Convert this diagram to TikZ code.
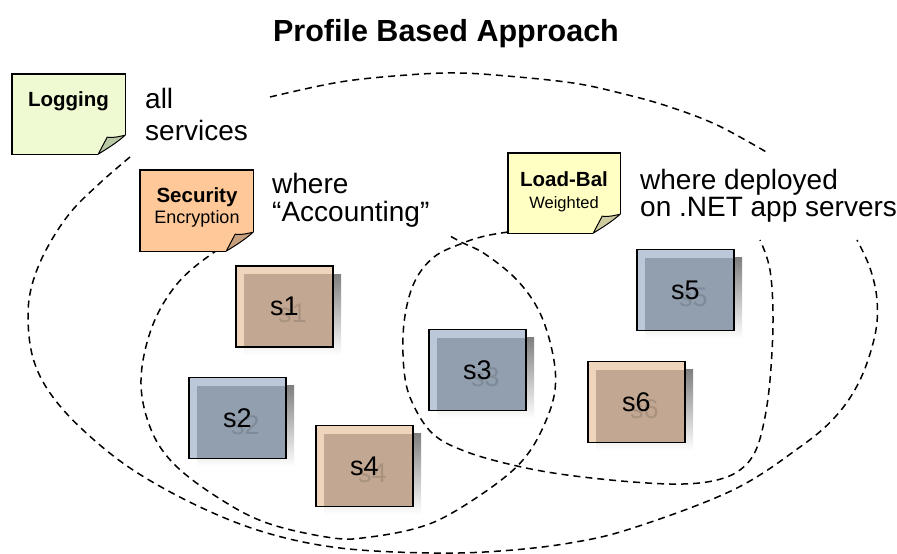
\documentclass[tikz,border=0pt]{standalone}
\usepackage{fontspec}
\setmainfont{Liberation Sans}
\usetikzlibrary{calc}

\definecolor{logfill}{HTML}{EFFAD3}
\definecolor{logfold}{HTML}{B9C9A5}
\definecolor{secfill}{HTML}{FEC898}
\definecolor{secfold}{HTML}{C8A07D}
\definecolor{lbfill}{HTML}{FFFFC4}
\definecolor{lbfold}{HTML}{CCCCA0}
\definecolor{tanlight}{HTML}{EED5BC}
\definecolor{tandark}{HTML}{C2A892}
\definecolor{bluelight}{HTML}{BAC8DA}
\definecolor{bluedark}{HTML}{929FAF}
\definecolor{shade}{HTML}{555555}

\tikzset{
  region/.style={draw=black, line width=1.5pt, dash pattern=on 7pt off 5pt},
  notebox/.style={minimum width=113pt, minimum height=80pt, inner sep=0pt},
  notehead/.style={anchor=base, inner sep=0pt, font=\fontsize{20.5}{20.5}\selectfont\bfseries},
  notesub/.style={anchor=base, inner sep=0pt},
  remark/.style={anchor=base west, inner sep=0pt, font=\fontsize{28}{28}\selectfont},
  svcbox/.style={draw=black, line width=1.4pt, minimum width=97pt, minimum height=81pt,
                 inner sep=0pt, font=\fontsize{27}{27}\selectfont},
  ghost/.style={inner sep=0pt, font=\fontsize{27}{27}\selectfont, text opacity=0.13},
}

% sticky note outline with a curled lower right corner
\newcommand\notebody[3]{%
  \fill[#2] (#1.north west) -- (#1.north east) -- ($(#1.south east)+(0,-19)$)
    -- ($(#1.south east)+(-27,0)$) -- (#1.south west) -- cycle;
  \filldraw[fill=#3, draw=black, line width=1pt, line join=round]
    ($(#1.south east)+(-27,0)$) -- ($(#1.south east)+(-18,-17)$)
    .. controls ($(#1.south east)+(-11,-16)$) and ($(#1.south east)+(-5,-18)$) .. ($(#1.south east)+(0,-19)$)
    .. controls ($(#1.south east)+(-9,-11)$) and ($(#1.south east)+(-19,-5)$) .. cycle;
  \draw[line width=1.4pt, line join=miter] ($(#1.south east)+(0,-19)$) -- (#1.north east)
    -- (#1.north west) -- (#1.south west) -- ($(#1.south east)+(-27,0)$);
}

% service box: drop shadow, light bevel, darker face, faint echo of the label
\newcommand\service[5]{%
  \fill[shade] (#2-40.5,#3-32.5) rectangle ++(97,81);
  \fill[#4] (#2-48.5,#3-40.5) rectangle ++(97,81);
  \fill[#5] (#2-40.5,#3-32.5) rectangle (#2+48.5,#3+40.5);
  \node[ghost] (#1g) at (#2+8,#3+7) {#1};
  \node[svcbox] (#1) at (#2,#3) {#1};
}

\begin{document}
\begin{tikzpicture}[x=1pt,y=-1pt]
\useasboundingbox (0,0) rectangle (897,554);

% title
\node[anchor=base, inner sep=0pt, font=\fontsize{30.5}{30.5}\selectfont\bfseries] (title) at (446,41) {Profile Based Approach};

% scope outlines
\draw[region] plot[smooth, tension=0.6] coordinates {
  (130,157) (100,183) (70,213) (46,250) (32,285) (28,318) (33,358) (50,393)
  (83,430) (133,470) (200,507) (267,533) (340,548) (430,553) (500,551)
  (570,543) (633,528) (733,490) (800,447) (836,416) (860,380) (875,335)
  (877,300) (870,268) (857,240)};
\draw[region] plot[smooth, tension=0.6] coordinates {
  (270,97) (340,82) (407,75) (457,73) (507,76) (573,83) (620,93) (667,106)
  (717,125) (768,153)};
\draw[region] plot[smooth, tension=0.6] coordinates {
  (250,232) (213,253) (177,284) (152,327) (141,380) (150,427) (173,463)
  (217,497) (267,523) (333,538) (370,537) (417,528) (452,513) (500,481)
  (527,455) (545,423) (555,390) (553,355) (540,313) (517,280) (485,254)
  (463,243) (450,236)};
\draw[region] plot[smooth, tension=0.6] coordinates {
  (508,232) (485,236) (463,243) (434,257) (414,283) (404,323) (404,370)
  (412,402) (433,434) (467,452) (517,466) (567,475) (633,482) (683,484)
  (717,480) (740,470) (755,452) (764,422) (770,380) (773,320) (770,270)
  (760,240)};

% policy notes
\node[notebox] (log) at (68.5,114) {};
\notebody{log}{logfill}{logfold}
\node[notehead] (logT) at (68.5,106) {Logging};

\node[notebox, minimum height=81pt] (sec) at (196.5,210.5) {};
\notebody{sec}{secfill}{secfold}
\node[notehead] (secT) at (197,202) {Security};
\node[notesub, font=\fontsize{18}{18}\selectfont] (secS) at (197,223) {Encryption};

\node[notebox, minimum width=112pt] (lb) at (564,193) {};
\notebody{lb}{lbfill}{lbfold}
\node[notehead] (lbT) at (564,186) {Load-Bal};
\node[notesub, font=\fontsize{16.5}{16.5}\selectfont] (lbS) at (564,208) {Weighted};

% scope descriptions
\node[remark] (allA) at (145,108) {all};
\node[remark] (allB) at (145,140) {services};
\node[remark] (accA) at (272,193) {where};
\node[remark] (accB) at (272,221) {“Accounting”};
\node[remark] (netA) at (640,189) {where deployed};
\node[remark] (netB) at (640,216) {on .NET app servers};

% services
\service{s1}{284.5}{306.5}{tanlight}{tandark}
\service{s2}{237.5}{418}{bluelight}{bluedark}
\service{s4}{364.5}{466}{tanlight}{tandark}
\service{s3}{477.5}{370}{bluelight}{bluedark}
\service{s5}{685.5}{290}{bluelight}{bluedark}
\service{s6}{636.5}{402}{tanlight}{tandark}
\end{tikzpicture}
\end{document}
